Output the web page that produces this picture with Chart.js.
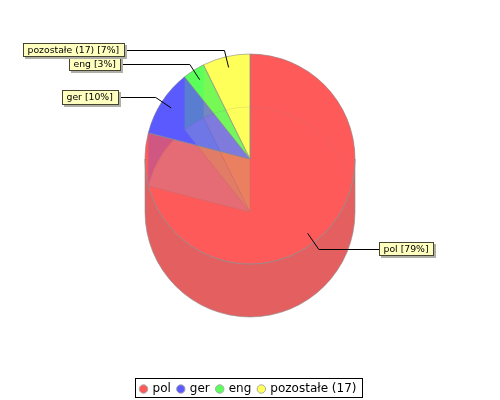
<!DOCTYPE html>
<html><head><meta charset="utf-8">
<style>html,body{margin:0;padding:0;background:#fff}#w{width:500px;height:400px}</style>
<script src="https://cdn.jsdelivr.net/npm/chart.js@4"></script></head>
<body><div id="w"><canvas id="c" width="500" height="400"></canvas></div>
<script>
const categories = ['pol','ger','eng','pozostałe (17)'];
const shares = [79, 10.3, 3.4, 7.3];
const calloutTexts = ['pol [79%]','ger [10%]','eng [3%]','pozostałe (17) [7%]'];
const sliceColors = ['#ff5a5a','#5a5aff','#5aff5a','#ffff5a'];
const translucent = ['rgba(255,90,90,.6)','rgba(90,90,255,.6)','rgba(90,255,90,.6)','rgba(255,255,90,.6)'];
const wallColors = ['rgba(0,0,0,0)','rgba(60,80,255,.6)','rgba(85,235,60,.6)','rgba(230,225,60,.5)'];
const floorOnRed = ['rgba(0,0,0,0)','rgba(255,195,120,.45)','rgba(232,175,125,.6)','rgba(232,175,125,.6)'];
const floorOnTop = ['', 'rgba(200,145,240,.5)','rgba(150,225,150,.3)','rgba(255,255,120,.2)'];
const calloutBoxes = [
  {x:379,y:242,w:54,h:13,side:'r'},
  {x:62,y:90,w:56,h:14,side:'l'},
  {x:69,y:57,w:51,h:13,side:'l'},
  {x:23,y:43,w:101,h:13,side:'l'}
];
const DEPTH = 53;
const FRONT = '#e46060', EDGE = 'rgba(140,140,140,.6)';

function wedge(ctx,a,dy){
  ctx.beginPath();ctx.moveTo(a.x,a.y+dy);
  ctx.arc(a.x,a.y+dy,a.outerRadius,a.startAngle,a.endAngle);ctx.closePath();
}
function wall(ctx,a,R){
  const x1=a.x+R*Math.cos(a.startAngle), y1=a.y+R*Math.sin(a.startAngle);
  ctx.beginPath();ctx.moveTo(a.x,a.y);ctx.lineTo(x1,y1);ctx.lineTo(x1,y1+DEPTH);ctx.lineTo(a.x,a.y+DEPTH);ctx.closePath();
}
const pie3d = {
  id:'pie3d',
  afterLayout(chart){
    chart.chartArea.top=53.5; chart.chartArea.bottom=264.5; chart.chartArea.height=211;
    const l=chart.legend; l.top+=5; l.bottom+=5; l.left-=1.5; l.right-=1.5;
  },
  beforeDatasetsDraw(chart){
    const ctx=chart.ctx, arcs=chart.getDatasetMeta(0).data;
    ctx.save();
    arcs.forEach((a,i)=>{ctx.fillStyle=sliceColors[i];wedge(ctx,a,0);ctx.fill();});
    const a0=arcs[0], R=a0.outerRadius;
    ctx.beginPath();
    ctx.arc(a0.x,a0.y,R,Math.PI,0,true);
    ctx.arc(a0.x,a0.y+DEPTH,R,0,Math.PI,false);
    ctx.closePath();ctx.fillStyle=FRONT;ctx.fill();
    ctx.strokeStyle=EDGE;ctx.lineWidth=1;ctx.stroke();
    arcs.forEach((a,i)=>{
      if(i===0) return;
      wall(ctx,a,R);
      ctx.fillStyle=wallColors[i];ctx.fill();
    });
    arcs.forEach((top,j)=>{
      ctx.save();
      wedge(ctx,top,0);ctx.clip();
      if(j===1){wall(ctx,arcs[2],R);ctx.clip();}
      arcs.forEach((a,i)=>{
        wedge(ctx,a,DEPTH);
        if(i>0){ctx.fillStyle=j===0?floorOnRed[i]:floorOnTop[j];ctx.fill();}
        ctx.strokeStyle='rgba(130,130,130,.4)';ctx.stroke();
      });
      ctx.restore();
    });
    ctx.restore();
  },
  afterDraw(chart){
    const ctx=chart.ctx, arcs=chart.getDatasetMeta(0).data;
    ctx.save();
    ctx.strokeStyle='#000';ctx.lineWidth=1;
    ctx.strokeRect(135.5,378.5,227,19);
    ctx.font='9.3px "DejaVu Sans"';ctx.textBaseline='middle';ctx.textAlign='left';
    arcs.forEach((a,i)=>{
      const mid=(a.startAngle+a.endAngle)/2, R=a.outerRadius, b=calloutBoxes[i];
      const ax=a.x+R*.895*Math.cos(mid), ay=a.y+R*.895*Math.sin(mid);
      const ex=a.x+R*1.07*Math.cos(mid), ey=Math.round(b.y+b.h/2)+.5;
      const lx=b.side==='r'?b.x:b.x+b.w+3;
      ctx.strokeStyle='#000';ctx.beginPath();ctx.moveTo(ax,ay);ctx.lineTo(ex,ey);ctx.lineTo(lx,ey);ctx.stroke();
      ctx.fillStyle='#b0b0a8';ctx.fillRect(b.x+2,b.y+2,b.w+1,b.h+1);
      ctx.fillStyle='#ffffc0';ctx.fillRect(b.x,b.y,b.w,b.h);
      ctx.strokeStyle='#444430';ctx.strokeRect(b.x+.5,b.y+.5,b.w,b.h);
      ctx.fillStyle='#000';ctx.fillText(calloutTexts[i],b.x+4.5,b.y+b.h/2+1);
    });
    ctx.restore();
  }
};
new Chart(document.getElementById('c'),{
  type:'pie',
  data:{labels:categories,datasets:[{data:shares,backgroundColor:translucent,borderColor:EDGE,borderWidth:1}]},
  options:{
    responsive:false,animation:false,
    layout:{padding:0},
    plugins:{
      tooltip:{enabled:false},
      legend:{position:'bottom',labels:{
        usePointStyle:true,boxHeight:6,boxWidth:6,padding:7,color:'#000',
        font:{family:'"DejaVu Sans"',size:12},
        generateLabels:()=>categories.map((t,i)=>({text:t,fillStyle:sliceColors[i],strokeStyle:'#aaa',lineWidth:1,pointStyle:'circle',index:i}))
      }}
    }
  },
  plugins:[pie3d]
});
</script></body></html>
